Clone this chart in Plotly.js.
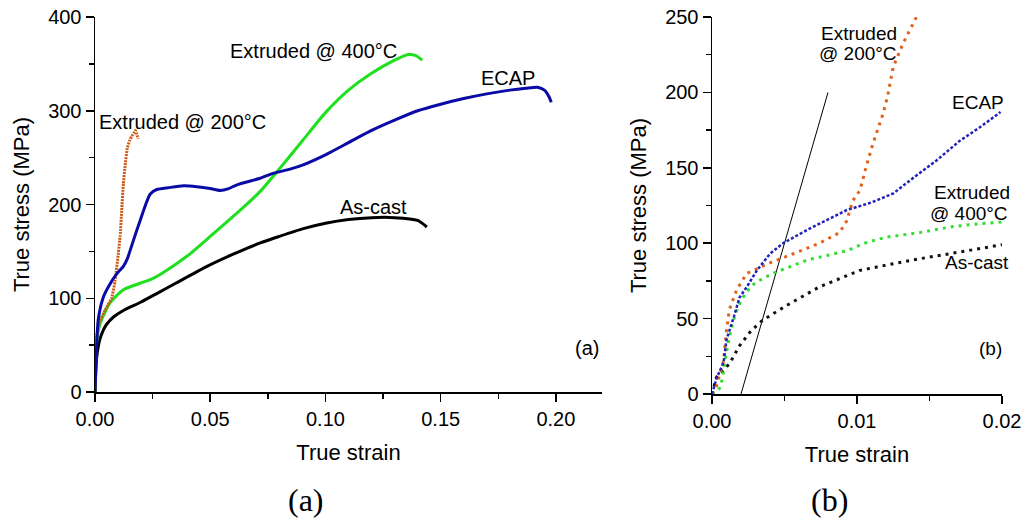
<!DOCTYPE html>
<html><head><meta charset="utf-8">
<script src="https://cdn.plot.ly/plotly-3.0.1.min.js"></script>
<style>html,body{margin:0;padding:0;background:#fff}#chart{width:1025px;height:524px}</style>
</head><body><div id="chart"></div>
<script>
// ---------- Panel (a): full true stress-strain curves ----------
const asCastStrainA = [0, 0.0005, 0.001, 0.002, 0.0036, 0.005, 0.008, 0.0123, 0.02, 0.0268, 0.035, 0.0486, 0.06, 0.0717, 0.08, 0.09, 0.10, 0.11, 0.12, 0.13, 0.14, 0.144];
const asCastStressA = [0, 30, 42, 55, 66, 72, 80, 87, 96, 105, 116, 134, 147, 159, 166, 174, 180, 184, 186, 186, 183, 176];

const ext400StrainA = [0, 0.0007, 0.0022, 0.0065, 0.0123, 0.0196, 0.025, 0.03, 0.04, 0.05, 0.063, 0.0717, 0.08, 0.09, 0.10, 0.11, 0.12, 0.13, 0.136, 0.139, 0.142];
const ext400StressA = [0, 52, 73, 95, 109, 116, 121, 128, 145, 166, 194, 214, 238, 268, 298, 322, 340, 354, 360, 359, 354];

const ecapStrainA = [0, 0.0005, 0.0014, 0.0036, 0.006, 0.0094, 0.0123, 0.014, 0.0167, 0.0196, 0.022, 0.0239, 0.0268, 0.032, 0.0384, 0.0442, 0.05, 0.0543, 0.058, 0.0616, 0.0717, 0.077, 0.085, 0.09, 0.10, 0.11, 0.12, 0.13, 0.14, 0.15, 0.16, 0.17, 0.18, 0.187, 0.192, 0.195, 0.197, 0.198];
const ecapStressA = [0, 35, 77, 101, 113, 126, 134, 142, 162, 183, 200, 211, 216, 218, 220, 219, 217, 215, 217, 221, 228, 233, 238, 242, 253, 266, 279, 290, 300, 307, 313, 318, 322, 324, 325, 322, 315, 309];

const ext200StrainA = [0, 0.0007, 0.002, 0.0043, 0.0072, 0.0087, 0.0109, 0.0116, 0.0123, 0.013, 0.014, 0.015, 0.016, 0.017, 0.0175, 0.018, 0.0187];
const ext200StressA = [0, 60, 75, 87, 100, 118, 166, 194, 222, 240, 260, 268, 273, 277, 279, 276, 270];

// ---------- Panel (b): zoom on the elastic / yield region ----------
const asCastStrainB = [0, 0.0003, 0.0012, 0.0019, 0.0027, 0.0035, 0.0052, 0.0074, 0.0102, 0.0139, 0.017, 0.02];
const asCastStressB = [0, 11, 20, 32, 42, 49, 59, 71, 82, 89, 94, 99];

const ext400StrainB = [0, 0.0004, 0.0006, 0.0008, 0.001, 0.0013, 0.0016, 0.002, 0.0025, 0.003, 0.0042, 0.0055, 0.0066, 0.008, 0.0093, 0.0105, 0.012, 0.0143, 0.0166, 0.0185, 0.02];
const ext400StressB = [0, 2, 5, 15, 28, 42, 53, 62, 69, 74, 80, 85, 89, 92, 95, 100, 104, 107, 111, 113, 114];

const ecapStrainB = [0, 0.0003, 0.0008, 0.001, 0.0015, 0.0019, 0.0024, 0.0031, 0.004, 0.0049, 0.0066, 0.008, 0.0093, 0.011, 0.0125, 0.0137, 0.0155, 0.0171, 0.0185, 0.0199];
const ecapStressB = [0, 10, 21, 36, 51, 64, 71, 82, 93, 100, 109, 116, 122, 127, 133, 142, 155, 168, 177, 187];

const ext200StrainB = [0, 0.0003, 0.0008, 0.001, 0.0012, 0.0017, 0.0024, 0.004, 0.0056, 0.0074, 0.0088, 0.0093, 0.0097, 0.0102, 0.0107, 0.0111, 0.0118, 0.0121, 0.0125, 0.0132, 0.0141, 0.0145];
const ext200StressB = [0, 5, 22, 42, 56, 69, 80, 87, 93, 100, 107, 115, 128, 135, 153, 166, 186, 197, 217, 233, 250, 258];

// 0.2 % offset line
const offsetStrain = [0.002, 0.008];
const offsetStress = [0, 200];

const seriesNames = ['As-cast', 'Extruded @ 400°C', 'ECAP', 'Extruded @ 200°C'];

const C_BLACK = '#000000', C_GREEN = '#1ee01e', C_BLUE = '#0a0aa6', C_ORANGE = '#cc5a14';
const C_GREEN_B = '#33dd33', C_BLUE_B = '#2222bb', C_ORANGE_B = '#e0621c';

const SPL = {shape: 'spline', smoothing: 0.6};
const traces = [
  {x: asCastStrainA, y: asCastStressA, name: seriesNames[0], mode: 'lines', line: Object.assign({color: C_BLACK, width: 3}, SPL), xaxis: 'x', yaxis: 'y'},
  {x: ext400StrainA, y: ext400StressA, name: seriesNames[1], mode: 'lines', line: Object.assign({color: C_GREEN, width: 3}, SPL), xaxis: 'x', yaxis: 'y'},
  {x: ext200StrainA, y: ext200StressA, name: seriesNames[3], mode: 'lines', line: {color: C_ORANGE, width: 3, dash: '2px,1px', shape: 'spline', smoothing: 0.4}, xaxis: 'x', yaxis: 'y'},
  {x: ecapStrainA, y: ecapStressA, name: seriesNames[2], mode: 'lines', line: Object.assign({color: C_BLUE, width: 3}, SPL), xaxis: 'x', yaxis: 'y'},

  {x: offsetStrain, y: offsetStress, name: '0.2% offset', mode: 'lines', line: {color: '#000', width: 1}, xaxis: 'x2', yaxis: 'y2'},
  {x: asCastStrainB, y: asCastStressB, name: seriesNames[0], mode: 'lines', line: {color: '#111', width: 3, dash: '3px,5px'}, xaxis: 'x2', yaxis: 'y2'},
  {x: ext400StrainB, y: ext400StressB, name: seriesNames[1], mode: 'lines', line: {color: C_GREEN_B, width: 3, dash: '3px,5px'}, xaxis: 'x2', yaxis: 'y2'},
  {x: ext200StrainB, y: ext200StressB, name: seriesNames[3], mode: 'lines', line: {color: C_ORANGE_B, width: 3, dash: '3px,5px'}, xaxis: 'x2', yaxis: 'y2'},
  {x: ecapStrainB, y: ecapStressB, name: seriesNames[2], mode: 'lines', line: {color: C_BLUE_B, width: 2.5, dash: '3px,2px'}, xaxis: 'x2', yaxis: 'y2'}
];

const FONT = 'Liberation Sans, Arial, sans-serif';
const W = 1025, H = 524;
const axBase = {
  showgrid: false, zeroline: false, showline: true, linecolor: '#000', linewidth: 1.5,
  ticks: 'outside', ticklen: 8, tickwidth: 1.5, tickcolor: '#000',
  tickfont: {family: FONT, size: 20, color: '#000'},
  title: {font: {family: FONT, size: 22, color: '#000'}},
  fixedrange: true
};
function ax(extra) { return Object.assign({}, JSON.parse(JSON.stringify(axBase)), extra); }

const layout = {
  width: W, height: H,
  margin: {l: 0, r: 0, t: 0, b: 0},
  paper_bgcolor: '#fff', plot_bgcolor: 'rgba(0,0,0,0)',
  showlegend: false,
  font: {family: FONT, color: '#000'},
  xaxis: ax({domain: [95 / W, 602 / W], range: [0, 0.22], dtick: 0.05, tickformat: '.2f', anchor: 'y',
    minor: {dtick: 0.025, ticks: 'outside', ticklen: 5, tickwidth: 1.5, tickcolor: '#000'},
    title: {text: 'True strain', standoff: 16, font: {family: FONT, size: 22, color: '#000'}}}),
  yaxis: ax({domain: [(H - 392) / H, (H - 17) / H], range: [0, 400], dtick: 100, anchor: 'x',
    minor: {dtick: 50, ticks: 'outside', ticklen: 5, tickwidth: 1.5, tickcolor: '#000'},
    title: {text: 'True stress (MPa)', standoff: 12, font: {family: FONT, size: 22, color: '#000'}}}),
  xaxis2: ax({domain: [712 / W, 1002 / W], range: [0, 0.02], dtick: 0.01, tickformat: '.2f', anchor: 'y2',
    minor: {dtick: 0.005, ticks: 'outside', ticklen: 5, tickwidth: 1.5, tickcolor: '#000'},
    title: {text: 'True strain', standoff: 16, font: {family: FONT, size: 22, color: '#000'}}}),
  yaxis2: ax({domain: [(H - 394) / H, (H - 17) / H], range: [0, 250], dtick: 50, anchor: 'x2',
    minor: {dtick: 25, ticks: 'outside', ticklen: 5, tickwidth: 1.5, tickcolor: '#000'},
    title: {text: 'True stress (MPa)', standoff: 12, font: {family: FONT, size: 22, color: '#000'}}}),
  annotations: [
    {xref: 'x', yref: 'y', x: 0.0948, y: 364, text: 'Extruded @ 400°C'},
    {xref: 'x', yref: 'y', x: 0.179, y: 335, text: 'ECAP'},
    {xref: 'x', yref: 'y', x: 0.038, y: 288, text: 'Extruded @ 200°C'},
    {xref: 'x', yref: 'y', x: 0.1209, y: 197, text: 'As-cast'},
    {xref: 'x', yref: 'y', x: 0.2135, y: 47, text: '(a)'},

    {xref: 'x2', yref: 'y2', x: 0.01014, y: 239, text: 'Extruded', size: 19},
    {xref: 'x2', yref: 'y2', x: 0.0101, y: 225.5, text: '@ 200°C', size: 19},
    {xref: 'x2', yref: 'y2', x: 0.01834, y: 193.6, text: 'ECAP', size: 19},
    {xref: 'x2', yref: 'y2', x: 0.01793, y: 133.3, text: 'Extruded', size: 19},
    {xref: 'x2', yref: 'y2', x: 0.01772, y: 119.4, text: '@ 400°C', size: 19},
    {xref: 'x2', yref: 'y2', x: 0.01828, y: 87, text: 'As-cast', size: 19},
    {xref: 'x2', yref: 'y2', x: 0.01924, y: 30, text: '(b)', size: 19}
  ].map(a => ({xref: a.xref, yref: a.yref, x: a.x, y: a.y, text: a.text, showarrow: false,
      xanchor: 'center', yanchor: 'middle', font: {family: FONT, size: a.size || 20, color: '#000'}}))
    .concat([
      {xref: 'paper', yref: 'paper', x: 306 / W, y: (H - 500) / H, text: '(a)', showarrow: false,
        xanchor: 'center', yanchor: 'middle', font: {family: 'Liberation Serif, Times New Roman, serif', size: 32, color: '#000'}},
      {xref: 'paper', yref: 'paper', x: 829 / W, y: (H - 500) / H, text: '(b)', showarrow: false,
        xanchor: 'center', yanchor: 'middle', font: {family: 'Liberation Serif, Times New Roman, serif', size: 32, color: '#000'}}
    ])
};

Plotly.newPlot('chart', traces, layout, {displayModeBar: false, staticPlot: true});
</script>
</body></html>
